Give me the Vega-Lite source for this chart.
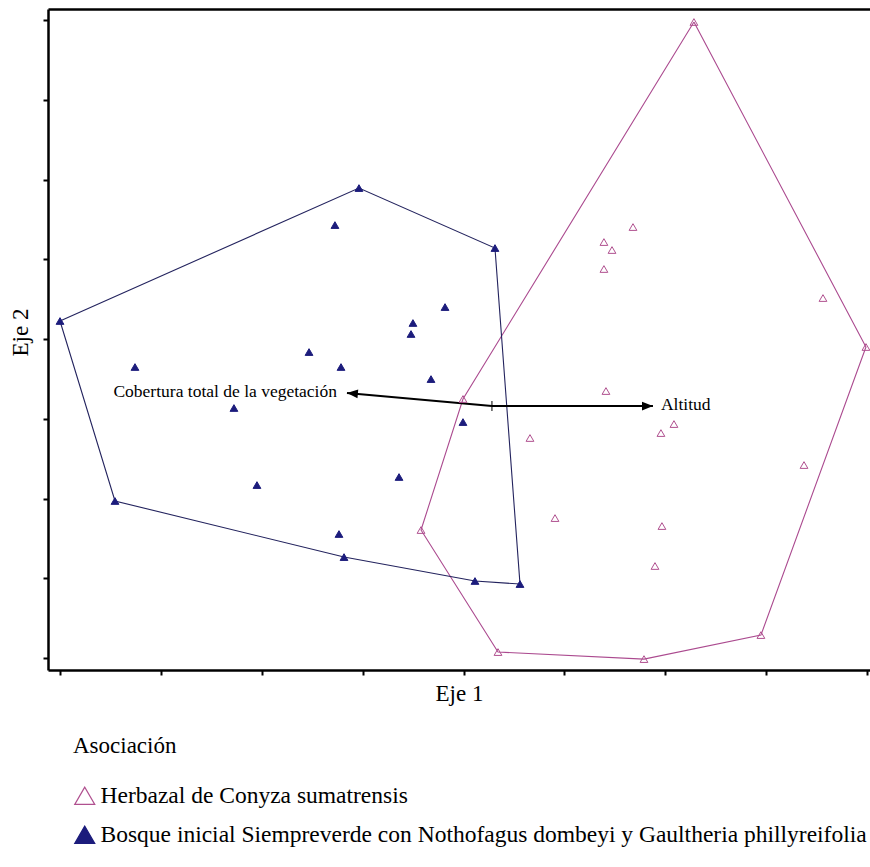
{
  "$schema": "https://vega.github.io/schema/vega-lite/v6.json",
  "width": 822,
  "height": 661,
  "padding": {"left": 48, "top": 9, "right": 0, "bottom": 197},
  "autosize": {"type": "none"},
  "background": "white",
  "config": {
    "view": {"stroke": null},
    "font": "Liberation Serif",
    "axis": {
      "grid": false, "labels": false, "domainColor": "black", "domainWidth": 2.5,
      "tickColor": "black", "tickWidth": 2, "tickSize": 5,
      "titleFont": "Liberation Serif", "titleFontSize": 23, "titleFontWeight": "normal", "titleColor": "black"
    },
    "legend": {
      "labelFont": "Liberation Serif", "titleFont": "Liberation Serif",
      "labelFontSize": 23.5, "titleFontSize": 23, "titleFontWeight": "normal",
      "labelColor": "black", "titleColor": "black", "labelLimit": 900
    }
  },
  "datasets": {
    "sitios": [
      {"asociacion": "Bosque inicial Siempreverde con Nothofagus dombeyi y Gaultheria phillyreifolia", "eje1": 0.000, "eje2": 4.226},
      {"asociacion": "Bosque inicial Siempreverde con Nothofagus dombeyi y Gaultheria phillyreifolia", "eje1": 0.743, "eje2": 3.649},
      {"asociacion": "Bosque inicial Siempreverde con Nothofagus dombeyi y Gaultheria phillyreifolia", "eje1": 0.545, "eje2": 1.969},
      {"asociacion": "Bosque inicial Siempreverde con Nothofagus dombeyi y Gaultheria phillyreifolia", "eje1": 1.724, "eje2": 3.135},
      {"asociacion": "Bosque inicial Siempreverde con Nothofagus dombeyi y Gaultheria phillyreifolia", "eje1": 1.952, "eje2": 2.169},
      {"asociacion": "Bosque inicial Siempreverde con Nothofagus dombeyi y Gaultheria phillyreifolia", "eje1": 2.725, "eje2": 5.429},
      {"asociacion": "Bosque inicial Siempreverde con Nothofagus dombeyi y Gaultheria phillyreifolia", "eje1": 2.963, "eje2": 5.893},
      {"asociacion": "Bosque inicial Siempreverde con Nothofagus dombeyi y Gaultheria phillyreifolia", "eje1": 2.468, "eje2": 3.837},
      {"asociacion": "Bosque inicial Siempreverde con Nothofagus dombeyi y Gaultheria phillyreifolia", "eje1": 2.785, "eje2": 3.649},
      {"asociacion": "Bosque inicial Siempreverde con Nothofagus dombeyi y Gaultheria phillyreifolia", "eje1": 2.765, "eje2": 1.555},
      {"asociacion": "Bosque inicial Siempreverde con Nothofagus dombeyi y Gaultheria phillyreifolia", "eje1": 2.815, "eje2": 1.266},
      {"asociacion": "Bosque inicial Siempreverde con Nothofagus dombeyi y Gaultheria phillyreifolia", "eje1": 3.498, "eje2": 4.201},
      {"asociacion": "Bosque inicial Siempreverde con Nothofagus dombeyi y Gaultheria phillyreifolia", "eje1": 3.479, "eje2": 4.063},
      {"asociacion": "Bosque inicial Siempreverde con Nothofagus dombeyi y Gaultheria phillyreifolia", "eje1": 3.816, "eje2": 4.401},
      {"asociacion": "Bosque inicial Siempreverde con Nothofagus dombeyi y Gaultheria phillyreifolia", "eje1": 3.677, "eje2": 3.498},
      {"asociacion": "Bosque inicial Siempreverde con Nothofagus dombeyi y Gaultheria phillyreifolia", "eje1": 3.360, "eje2": 2.270},
      {"asociacion": "Bosque inicial Siempreverde con Nothofagus dombeyi y Gaultheria phillyreifolia", "eje1": 3.994, "eje2": 2.959},
      {"asociacion": "Bosque inicial Siempreverde con Nothofagus dombeyi y Gaultheria phillyreifolia", "eje1": 4.113, "eje2": 0.966},
      {"asociacion": "Bosque inicial Siempreverde con Nothofagus dombeyi y Gaultheria phillyreifolia", "eje1": 4.559, "eje2": 0.928},
      {"asociacion": "Bosque inicial Siempreverde con Nothofagus dombeyi y Gaultheria phillyreifolia", "eje1": 4.311, "eje2": 5.141},
      {"asociacion": "Herbazal de Conyza sumatrensis", "eje1": 6.283, "eje2": 7.975},
      {"asociacion": "Herbazal de Conyza sumatrensis", "eje1": 7.988, "eje2": 3.900},
      {"asociacion": "Herbazal de Conyza sumatrensis", "eje1": 7.562, "eje2": 4.514},
      {"asociacion": "Herbazal de Conyza sumatrensis", "eje1": 7.374, "eje2": 2.420},
      {"asociacion": "Herbazal de Conyza sumatrensis", "eje1": 6.947, "eje2": 0.288},
      {"asociacion": "Herbazal de Conyza sumatrensis", "eje1": 5.788, "eje2": -0.013},
      {"asociacion": "Herbazal de Conyza sumatrensis", "eje1": 4.341, "eje2": 0.075},
      {"asociacion": "Herbazal de Conyza sumatrensis", "eje1": 3.578, "eje2": 1.605},
      {"asociacion": "Herbazal de Conyza sumatrensis", "eje1": 3.994, "eje2": 3.248},
      {"asociacion": "Herbazal de Conyza sumatrensis", "eje1": 4.658, "eje2": 2.759},
      {"asociacion": "Herbazal de Conyza sumatrensis", "eje1": 4.906, "eje2": 1.755},
      {"asociacion": "Herbazal de Conyza sumatrensis", "eje1": 5.391, "eje2": 5.216},
      {"asociacion": "Herbazal de Conyza sumatrensis", "eje1": 5.471, "eje2": 5.116},
      {"asociacion": "Herbazal de Conyza sumatrensis", "eje1": 5.679, "eje2": 5.404},
      {"asociacion": "Herbazal de Conyza sumatrensis", "eje1": 5.391, "eje2": 4.878},
      {"asociacion": "Herbazal de Conyza sumatrensis", "eje1": 5.411, "eje2": 3.348},
      {"asociacion": "Herbazal de Conyza sumatrensis", "eje1": 5.956, "eje2": 2.821},
      {"asociacion": "Herbazal de Conyza sumatrensis", "eje1": 6.085, "eje2": 2.934},
      {"asociacion": "Herbazal de Conyza sumatrensis", "eje1": 5.966, "eje2": 1.655},
      {"asociacion": "Herbazal de Conyza sumatrensis", "eje1": 5.897, "eje2": 1.154}
    ],
    "envolventes": [
      {"grupo": "Bosque", "vertice": 1, "eje1": 0.000, "eje2": 4.226},
      {"grupo": "Bosque", "vertice": 2, "eje1": 2.963, "eje2": 5.893},
      {"grupo": "Bosque", "vertice": 3, "eje1": 4.311, "eje2": 5.141},
      {"grupo": "Bosque", "vertice": 4, "eje1": 4.559, "eje2": 0.928},
      {"grupo": "Bosque", "vertice": 5, "eje1": 4.113, "eje2": 0.966},
      {"grupo": "Bosque", "vertice": 6, "eje1": 2.815, "eje2": 1.266},
      {"grupo": "Bosque", "vertice": 7, "eje1": 0.545, "eje2": 1.969},
      {"grupo": "Bosque", "vertice": 8, "eje1": 0.000, "eje2": 4.226},
      {"grupo": "Herbazal", "vertice": 1, "eje1": 6.283, "eje2": 7.975},
      {"grupo": "Herbazal", "vertice": 2, "eje1": 7.988, "eje2": 3.900},
      {"grupo": "Herbazal", "vertice": 3, "eje1": 6.947, "eje2": 0.288},
      {"grupo": "Herbazal", "vertice": 4, "eje1": 5.788, "eje2": -0.013},
      {"grupo": "Herbazal", "vertice": 5, "eje1": 4.341, "eje2": 0.075},
      {"grupo": "Herbazal", "vertice": 6, "eje1": 3.578, "eje2": 1.605},
      {"grupo": "Herbazal", "vertice": 7, "eje1": 3.994, "eje2": 3.248},
      {"grupo": "Herbazal", "vertice": 8, "eje1": 6.283, "eje2": 7.975}
    ],
    "vectores": [
      {"variable": "Cobertura total de la vegetación", "x0": 4.281, "y0": 3.160, "x1": 2.844, "y1": 3.323},
      {"variable": "Altitud", "x0": 4.281, "y0": 3.160, "x1": 5.877, "y1": 3.160}
    ]
  },
  "resolve": {"axis": {"x": "independent"}},
  "layer": [
    {
      "data": {"name": "envolventes"},
      "transform": [{"filter": "datum.grupo === 'Herbazal'"}],
      "mark": {"type": "line", "color": "#ab4a8f", "strokeWidth": 1.1},
      "encoding": {
        "x": {"field": "eje1", "type": "quantitative", "scale": {"domain": [-0.119, 8.028], "nice": false, "zero": false},
              "axis": {"orient": "bottom", "values": [0, 1, 2, 3, 4, 5, 6, 7, 8], "title": "Eje 1", "titlePadding": 6}},
        "y": {"field": "eje2", "type": "quantitative", "scale": {"domain": [-0.150, 8.138], "nice": false, "zero": false},
              "axis": {"values": [0, 1, 2, 3, 4, 5, 6, 7, 8], "title": "Eje 2", "titlePadding": 10, "titleY": 323}},
        "order": {"field": "vertice", "type": "quantitative"}
      }
    },
    {
      "data": {"name": "envolventes"},
      "transform": [{"filter": "datum.grupo === 'Bosque'"}],
      "mark": {"type": "line", "color": "#23235e", "strokeWidth": 1.1},
      "encoding": {
        "x": {"field": "eje1", "type": "quantitative",
              "axis": {"orient": "top", "ticks": false, "labels": false, "title": null, "domain": true}},
        "y": {"field": "eje2", "type": "quantitative"},
        "order": {"field": "vertice", "type": "quantitative"}
      }
    },
    {
      "data": {"name": "vectores"},
      "mark": {"type": "rule", "color": "black", "strokeWidth": 2},
      "encoding": {
        "x": {"field": "x0", "type": "quantitative", "axis": null},
        "y": {"field": "y0", "type": "quantitative"},
        "x2": {"field": "x1"},
        "y2": {"field": "y1"}
      }
    },
    {
      "data": {"name": "vectores"},
      "transform": [{"filter": "datum.variable === 'Altitud'"}],
      "mark": {"type": "point", "shape": "M0,0L0.8,2L-0.8,2Z", "filled": true, "color": "black", "opacity": 1, "size": 120, "angle": 90},
      "encoding": {
        "x": {"field": "x1", "type": "quantitative", "axis": null},
        "y": {"field": "y1", "type": "quantitative"}
      }
    },
    {
      "data": {"name": "vectores"},
      "transform": [{"filter": "datum.variable !== 'Altitud'"}],
      "mark": {"type": "point", "shape": "M0,0L0.8,2L-0.8,2Z", "filled": true, "color": "black", "opacity": 1, "size": 120, "angle": 275},
      "encoding": {
        "x": {"field": "x1", "type": "quantitative", "axis": null},
        "y": {"field": "y1", "type": "quantitative"}
      }
    },
    {
      "data": {"name": "vectores"},
      "transform": [{"filter": "datum.variable === 'Altitud'"}],
      "mark": {"type": "point", "shape": "M0,-1L0,1", "filled": false, "color": "black", "opacity": 1, "size": 100, "strokeWidth": 1},
      "encoding": {
        "x": {"field": "x0", "type": "quantitative", "axis": null},
        "y": {"field": "y0", "type": "quantitative"}
      }
    },
    {
      "data": {"name": "vectores"},
      "transform": [{"filter": "datum.variable === 'Altitud'"}],
      "mark": {"type": "text", "align": "left", "baseline": "alphabetic", "dx": 8, "dy": 4, "font": "Liberation Serif", "fontSize": 17.5, "color": "black"},
      "encoding": {
        "x": {"field": "x1", "type": "quantitative", "axis": null},
        "y": {"field": "y1", "type": "quantitative"},
        "text": {"field": "variable"}
      }
    },
    {
      "data": {"name": "vectores"},
      "transform": [{"filter": "datum.variable !== 'Altitud'"}],
      "mark": {"type": "text", "align": "right", "baseline": "alphabetic", "dx": -10, "dy": 4, "font": "Liberation Serif", "fontSize": 17.5, "color": "black"},
      "encoding": {
        "x": {"field": "x1", "type": "quantitative", "axis": null},
        "y": {"field": "y1", "type": "quantitative"},
        "text": {"field": "variable"}
      }
    },
    {
      "data": {"name": "sitios"},
      "mark": {"type": "point", "shape": "triangle-up", "size": 60, "strokeWidth": 1, "opacity": 1},
      "encoding": {
        "x": {"field": "eje1", "type": "quantitative", "axis": null},
        "y": {"field": "eje2", "type": "quantitative"},
        "fill": {
          "field": "asociacion", "type": "nominal",
          "scale": {"domain": ["Herbazal de Conyza sumatrensis", "Bosque inicial Siempreverde con Nothofagus dombeyi y Gaultheria phillyreifolia"], "range": ["transparent", "#1c1c7c"]},
          "legend": {
            "title": "Asociación", "orient": "none", "legendX": 25, "legendY": 726, "direction": "vertical",
            "symbolType": "triangle-up", "symbolSize": 400, "symbolStrokeWidth": 1.2,
            "labelFont": "Liberation Serif", "labelFontSize": 23.5, "labelColor": "black", "labelLimit": 900, "labelOffset": 4,
            "titleFont": "Liberation Serif", "titleFontSize": 23, "titleFontWeight": "normal", "titleColor": "black",
            "titlePadding": 26, "rowPadding": 14, "padding": 0
          }
        },
        "stroke": {
          "field": "asociacion", "type": "nominal",
          "scale": {"domain": ["Herbazal de Conyza sumatrensis", "Bosque inicial Siempreverde con Nothofagus dombeyi y Gaultheria phillyreifolia"], "range": ["#b0508f", "#1c1c7c"]},
          "legend": null
        }
      }
    }
  ]
}
